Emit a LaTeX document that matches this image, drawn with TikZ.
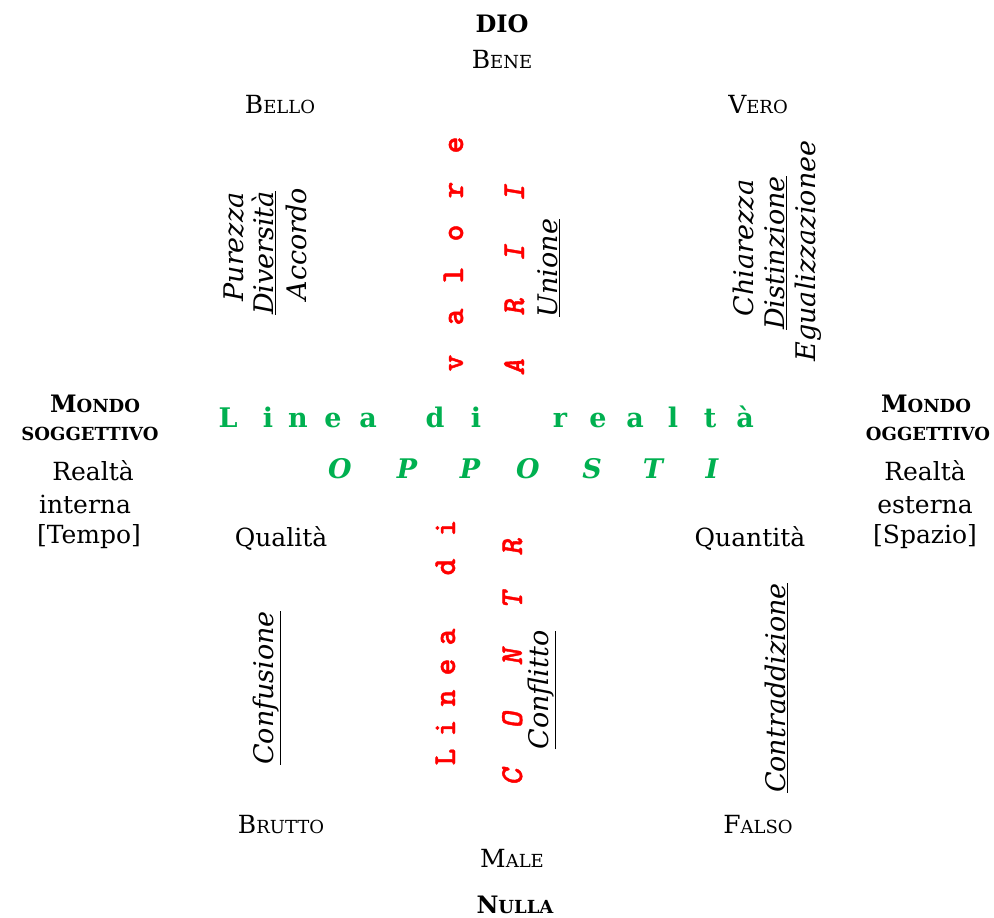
\documentclass[tikz,border=0pt]{standalone}
\usepackage{fontspec}
\setmainfont{DejaVu Serif}
\newfontfamily\redmono{lmmonolt10-bold.otf}[FakeBold=1.2]
\newfontfamily\redmonoit{lmmonolt10-boldoblique.otf}[FakeBold=1.2]
\definecolor{redtxt}{RGB}{255,0,0}
\definecolor{greentxt}{RGB}{0,176,80}
\newcommand\mySC[2]{{\fontsize{25}{30}\selectfont #1}{\fontsize{18}{22}\selectfont #2}}
\newcommand\myBSC[2]{{\bfseries\fontsize{24}{28}\selectfont #1}{\bfseries\fontsize{18}{22}\selectfont #2}}
\begin{document}
\begin{tikzpicture}[x=1pt,y=-1pt,
  every node/.style={inner sep=0pt, outer sep=0pt, anchor=base},
  txt/.style={font=\fontsize{25}{30}\selectfont},
  bcaps/.style={font=\bfseries\fontsize{18}{22}\selectfont},
  rit/.style={rotate=90, font=\fontsize{27}{32}\selectfont\itshape},
  redup/.style={rotate=90, text=redtxt, font=\redmono\fontsize{32}{32}\selectfont},
  redit/.style={rotate=90, text=redtxt, font=\redmonoit\fontsize{32}{32}\selectfont},
  grnup/.style={text=greentxt, font=\fontsize{27}{27}\selectfont\bfseries},
  grnit/.style={text=greentxt, font=\fontsize{27}{27}\selectfont\bfseries\itshape}
]
\useasboundingbox (0,0) rectangle (994,918);
% top / bottom
\node[font=\fontsize{24}{28}\selectfont\bfseries] (dio) at (502,32) {DIO};
\node (bene) at (502,68) {\mySC{B}{ENE}};
\node (bello) at (280,113) {\mySC{B}{ELLO}};
\node (vero) at (758,113) {\mySC{V}{ERO}};
\node (brutto) at (281,833) {\mySC{B}{RUTTO}};
\node (falso) at (758,833) {\mySC{F}{ALSO}};
\node (male) at (512,867) {\mySC{M}{ALE}};
\node (nulla) at (515,913) {\myBSC{N}{ULLA}};
% left block
\node (mondoS) at (95,412) {\myBSC{M}{ONDO}};
\node[bcaps] (soggS) at (90,440) {SOGGETTIVO};
\node[txt] (realtaI) at (93,480) {Realtà};
\node[txt] (interna) at (85,513) {interna};
\node[txt] (tempo) at (89,543) {[Tempo]};
% right block
\node (mondoO) at (926,412) {\myBSC{M}{ONDO}};
\node[bcaps] (oggO) at (928,440) {OGGETTIVO};
\node[txt] (realtaE) at (925,480) {Realtà};
\node[txt] (esterna) at (925,513) {esterna};
\node[txt] (spazio) at (925,543) {[Spazio]};
% middle labels
\node[txt] (qualita) at (281,546) {Qualità};
\node[txt] (quantita) at (750,546) {Quantità};
% rotated italic words
\node[rit] (purezza) at (243,247) {Purezza};
\node[rit] (diversita) at (273,253) {\underline{Diversità}};
\node[rit] (accordo) at (306,244) {Accordo};
\node[rit] (chiarezza) at (753,248) {Chiarezza};
\node[rit] (distinzione) at (784,253) {\underline{Distinzione}};
\node[rit] (egual) at (815,251) {Egualizzazionee};
\node[rit] (unione) at (557,268) {\underline{Unione}};
\node[rit] (confusione) at (273,688) {\underline{Confusione}};
\node[rit] (conflitto) at (548,690) {\underline{Conflitto}};
\node[rit] (contradd) at (785,688) {\underline{Contraddizione}};
% red vertical lines
\foreach \c/\y [count=\i] in {v/363,a/317,l/275,o/233,r/190,e/145}
  \node[redup] (val\i) at (463,\y) {\c};
\foreach \c/\y [count=\i] in {L/757,i/728,n/698,e/667,a/637,d/567,i/528}
  \node[redup] (lin\i) at (455,\y) {\c};
\foreach \c/\y [count=\i] in {C/777,O/720,N/657,T/600,R/547}
  \node[redit] (con\i) at (522,\y) {\c};
\foreach \c/\y [count=\i] in {A/367,R/307,I/253,I/193}
  \node[redit] (arii\i) at (524,\y) {\c};
% green horizontal lines
\foreach \c/\x [count=\i] in {L/228,i/268,n/298,e/333,a/368,d/435,i/476,r/560,e/598,a/635,l/673,t/710,à/745}
  \node[grnup] (lr\i) at (\x,427) {\c};
\foreach \c/\x [count=\i] in {O/340,P/407,P/470,O/528,S/592,T/653,I/712}
  \node[grnit] (opp\i) at (\x,478) {\c};
\end{tikzpicture}
\end{document}
